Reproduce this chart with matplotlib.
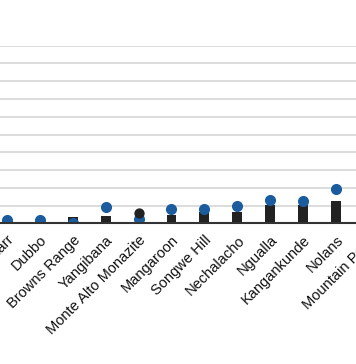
import matplotlib
matplotlib.use("Agg")
import matplotlib.pyplot as plt
import numpy as np

plt.rcParams['font.family'] = ['Liberation Sans', 'DejaVu Sans']

categories = ["Norra Kärr", "Dubbo", "Browns Range", "Yangibana", "Monte Alto Monazite",
              "Mangaroon", "Songwe Hill", "Nechalacho", "Ngualla", "Kangankunde",
              "Nolans", "Mountain Pass"]
bar_values = [0.0, 0.0, 0.34, 0.41, 0.0, 0.47, 0.63, 0.65, 1.03, 1.03, 1.25, np.nan]
dot_values = [0.16, 0.19, 0.04, 0.90, 0.27, 0.80, 0.79, 0.97, 1.29, 1.24, 1.94, np.nan]
alt_dot_values = [np.nan, np.nan, np.nan, np.nan, 0.56, np.nan, np.nan, np.nan, np.nan, np.nan, np.nan, np.nan]
y_ticks = [1, 2, 3, 4, 5, 6, 7, 8, 9, 10]

W, H = 356, 364
fig = plt.figure(figsize=(W / 100, H / 100), dpi=100)
fig.patch.set_facecolor("white")

x = np.arange(len(categories))
px_per_cat = 32.9
x0_px = 7.0
left_px = x0_px - 0.5 * px_per_cat
right_px = x0_px + (len(categories) - 0.5) * px_per_cat
base_px = 223.3
top_px = 45.7
ax = fig.add_axes([left_px / W, (H - base_px) / H, (right_px - left_px) / W, (base_px - top_px) / H])
ax.set_xlim(-0.5, len(categories) - 0.5)
ax.set_ylim(0, 10)

blue = "#1b5c9e"
dark = "#222222"

ax.bar(x, bar_values, width=0.3, color=dark, zorder=3)
ax.scatter(x, dot_values, s=64, color=blue, zorder=4, linewidths=0)
ax.scatter(x, alt_dot_values, s=55, color=dark, zorder=5, linewidths=0)

ax.set_yticks(y_ticks)
ax.yaxis.grid(True, color="#dcdcdc", linewidth=1.4, zorder=0)
ax.set_axisbelow(True)
ax.tick_params(axis="y", left=False, labelleft=False)
for s in ["left", "right", "top"]:
    ax.spines[s].set_visible(False)
ax.spines["bottom"].set_color("#333333")
ax.spines["bottom"].set_linewidth(1.5)
ax.spines["bottom"].set_zorder(6)

ax.set_xticks(x)
ax.set_xticklabels(categories, rotation=45, ha="right", rotation_mode="anchor", fontsize=10.5, color="#111111")
ax.tick_params(axis="x", length=0, pad=7)

fig.savefig("out.png", dpi=100)
